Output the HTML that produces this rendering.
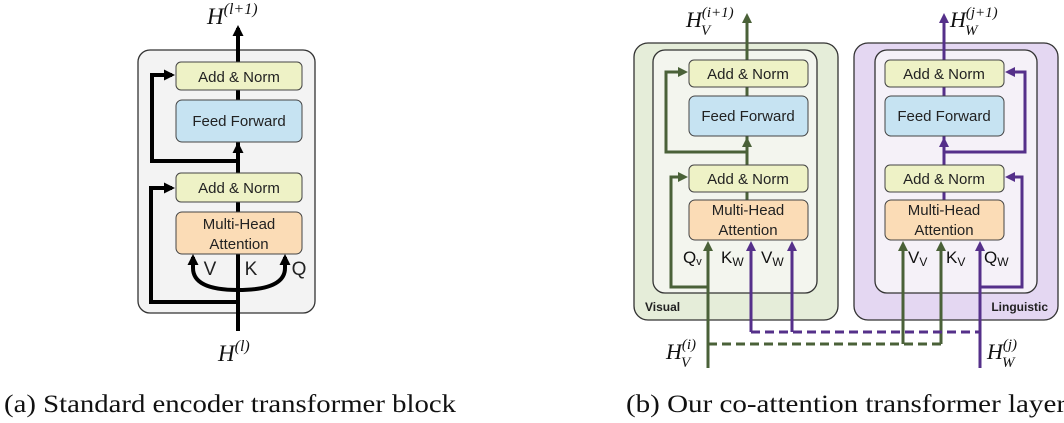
<!DOCTYPE html>
<html><head><meta charset="utf-8"><style>
body{margin:0;background:#fff}
svg{display:block}
.b{font-family:"Liberation Sans",sans-serif;font-size:15px;fill:#222;text-anchor:middle}
.m{font-family:"Liberation Serif",serif;font-style:italic;fill:#111}
.cap{font-family:"Liberation Serif",serif;font-size:25px;fill:#111}
</style></head><body>
<svg width="1064" height="423" viewBox="0 0 1064 423">
<defs>
<marker id="ak" markerWidth="11" markerHeight="11" refX="8" refY="5.5" orient="auto" markerUnits="userSpaceOnUse"><path d="M0,0 L11,5.5 L0,11 z" fill="#000"/></marker>
<marker id="ag" markerWidth="10" markerHeight="10" refX="7" refY="5" orient="auto" markerUnits="userSpaceOnUse"><path d="M0,0 L10,5 L0,10 z" fill="#4a6138"/></marker>
<marker id="ap" markerWidth="10" markerHeight="10" refX="7" refY="5" orient="auto" markerUnits="userSpaceOnUse"><path d="M0,0 L10,5 L0,10 z" fill="#55308a"/></marker>
</defs>
<rect x="138" y="50" width="177" height="263" rx="12" fill="#f3f3f3" stroke="#333" stroke-width="1.3"/>
<g stroke="#000" stroke-width="4" fill="none">
<line x1="238" y1="331" x2="238" y2="28" marker-end="url(#ak)"/>
<polyline points="238,302 151,302 151,188 172,188" marker-end="url(#ak)"/>
<polyline points="238,161 152,161 152,75 172,75" marker-end="url(#ak)"/>
<path d="M193,262 L193,268 Q193,290 238,290 Q285,290 285,268 L285,262"/>
<line x1="193" y1="268" x2="193" y2="257" marker-end="url(#ak)"/>
<line x1="285" y1="268" x2="285" y2="257" marker-end="url(#ak)"/>
<line x1="238" y1="156" x2="238" y2="145" marker-end="url(#ak)"/>
</g>
<rect x="176" y="62" width="126" height="28" rx="5" fill="#eef2c6" stroke="#444"/>
<rect x="176" y="100" width="126" height="42" rx="6" fill="#c6e3f2" stroke="#444"/>
<rect x="176" y="173" width="126" height="29" rx="5" fill="#eef2c6" stroke="#444"/>
<rect x="176" y="212" width="126" height="42" rx="6" fill="#fbdcb6" stroke="#444"/>
<text class="b" x="239" y="82">Add &amp; Norm</text>
<text class="b" x="239" y="126">Feed Forward</text>
<text class="b" x="239" y="193">Add &amp; Norm</text>
<text class="b" x="239" y="229">Multi-Head</text>
<text class="b" x="239" y="249">Attention</text>
<text class="b" x="210" y="275" style="font-size:19px">V</text>
<text class="b" x="251" y="275" style="font-size:19px">K</text>
<text class="b" x="299" y="275" style="font-size:19px">Q</text>
<text class="m" x="207" y="24" font-size="23">H<tspan font-size="16" dy="-10">(l+1)</tspan></text>
<text class="m" x="218" y="361" font-size="23">H<tspan font-size="16" dy="-10">(l)</tspan></text>
<text class="cap" x="4" y="412" textLength="452" lengthAdjust="spacingAndGlyphs">(a) Standard encoder transformer block</text>

<rect x="634" y="43" width="204" height="277" rx="14" fill="#e5edd9" stroke="#333" stroke-width="1.3"/>
<rect x="653" y="50" width="164" height="243" rx="12" fill="#f3f5ee" stroke="#333" stroke-width="1.3"/>
<text x="645" y="311" style="font-family:'Liberation Sans',sans-serif;font-weight:bold;font-size:12px;fill:#222">Visual</text>
<rect x="854" y="43" width="204" height="277" rx="14" fill="#e4d7f2" stroke="#333" stroke-width="1.3"/>
<rect x="875" y="50" width="162" height="243" rx="12" fill="#f5f1f8" stroke="#333" stroke-width="1.3"/>
<text x="1048" y="311" text-anchor="end" style="font-family:'Liberation Sans',sans-serif;font-weight:bold;font-size:12px;fill:#222">Linguistic</text>

<g fill="none" stroke-width="3">
<g stroke="#4a6138">
<line x1="747" y1="240" x2="747" y2="16" marker-end="url(#ag)"/>
<line x1="747" y1="150" x2="747" y2="140" marker-end="url(#ag)"/>
<polyline points="747,152 666,152 666,72 685,72" marker-end="url(#ag)"/>
<line x1="708" y1="368" x2="708" y2="244" marker-end="url(#ag)"/>
<polyline points="708,287 671,287 671,177 685,177" marker-end="url(#ag)"/>
<polyline points="708,344 941,344" stroke-dasharray="9,5"/>
<line x1="903" y1="344" x2="903" y2="244" marker-end="url(#ag)"/>
<line x1="941" y1="344" x2="941" y2="244" marker-end="url(#ag)"/>
</g>
<g stroke="#55308a">
<line x1="944" y1="240" x2="944" y2="16" marker-end="url(#ap)"/>
<line x1="944" y1="150" x2="944" y2="140" marker-end="url(#ap)"/>
<polyline points="944,152 1025,152 1025,72 1008,72" marker-end="url(#ap)"/>
<line x1="980" y1="368" x2="980" y2="244" marker-end="url(#ap)"/>
<polyline points="980,287 1022,287 1022,177 1008,177" marker-end="url(#ap)"/>
<polyline points="751,332 980,332" stroke-dasharray="9,5"/>
<line x1="751" y1="332" x2="751" y2="244" marker-end="url(#ap)"/>
<line x1="792" y1="332" x2="792" y2="244" marker-end="url(#ap)"/>
</g>
</g>
<g>
<rect x="689" y="60" width="119" height="27" rx="5" fill="#eef2c6" stroke="#444"/>
<rect x="689" y="96" width="119" height="40" rx="6" fill="#c6e3f2" stroke="#444"/>
<rect x="689" y="165" width="119" height="27" rx="5" fill="#eef2c6" stroke="#444"/>
<rect x="689" y="200" width="119" height="40" rx="6" fill="#fbdcb6" stroke="#444"/>
<text class="b" x="748" y="79">Add &amp; Norm</text>
<text class="b" x="748" y="121">Feed Forward</text>
<text class="b" x="748" y="184">Add &amp; Norm</text>
<text class="b" x="748" y="215">Multi-Head</text>
<text class="b" x="748" y="235">Attention</text>
<rect x="885" y="60" width="119" height="27" rx="5" fill="#eef2c6" stroke="#444"/>
<rect x="885" y="96" width="119" height="40" rx="6" fill="#c6e3f2" stroke="#444"/>
<rect x="885" y="165" width="119" height="27" rx="5" fill="#eef2c6" stroke="#444"/>
<rect x="885" y="200" width="119" height="40" rx="6" fill="#fbdcb6" stroke="#444"/>
<text class="b" x="944" y="79">Add &amp; Norm</text>
<text class="b" x="944" y="121">Feed Forward</text>
<text class="b" x="944" y="184">Add &amp; Norm</text>
<text class="b" x="944" y="215">Multi-Head</text>
<text class="b" x="944" y="235">Attention</text>
</g>
<g style="font-family:'Liberation Sans',sans-serif;font-size:17px;fill:#111">
<text x="683" y="263">Q<tspan font-size="11" dy="2">v</tspan></text>
<text x="721" y="263">K<tspan font-size="12" dy="3">W</tspan></text>
<text x="761" y="263">V<tspan font-size="12" dy="3">W</tspan></text>
<text x="908" y="263">V<tspan font-size="12" dy="3">V</tspan></text>
<text x="946" y="263">K<tspan font-size="12" dy="3">V</tspan></text>
<text x="984" y="263">Q<tspan font-size="12" dy="3">W</tspan></text>
</g>
<g class="m">
<text x="686" y="27" font-size="22">H<tspan font-size="15" dy="-10">(i+1)</tspan></text>
<text x="701" y="35" font-size="15">V</text>
<text x="950" y="27" font-size="22">H<tspan font-size="15" dy="-10">(j+1)</tspan></text>
<text x="965" y="35" font-size="15">W</text>
<text x="666" y="359" font-size="22">H<tspan font-size="15" dy="-10">(i)</tspan></text>
<text x="681" y="367" font-size="15">V</text>
<text x="987" y="359" font-size="22">H<tspan font-size="15" dy="-10">(j)</tspan></text>
<text x="1002" y="367" font-size="15">W</text>
</g>
<text class="cap" x="626" y="412" textLength="440" lengthAdjust="spacingAndGlyphs">(b) Our co-attention transformer layer</text>
</svg>
</body></html>
